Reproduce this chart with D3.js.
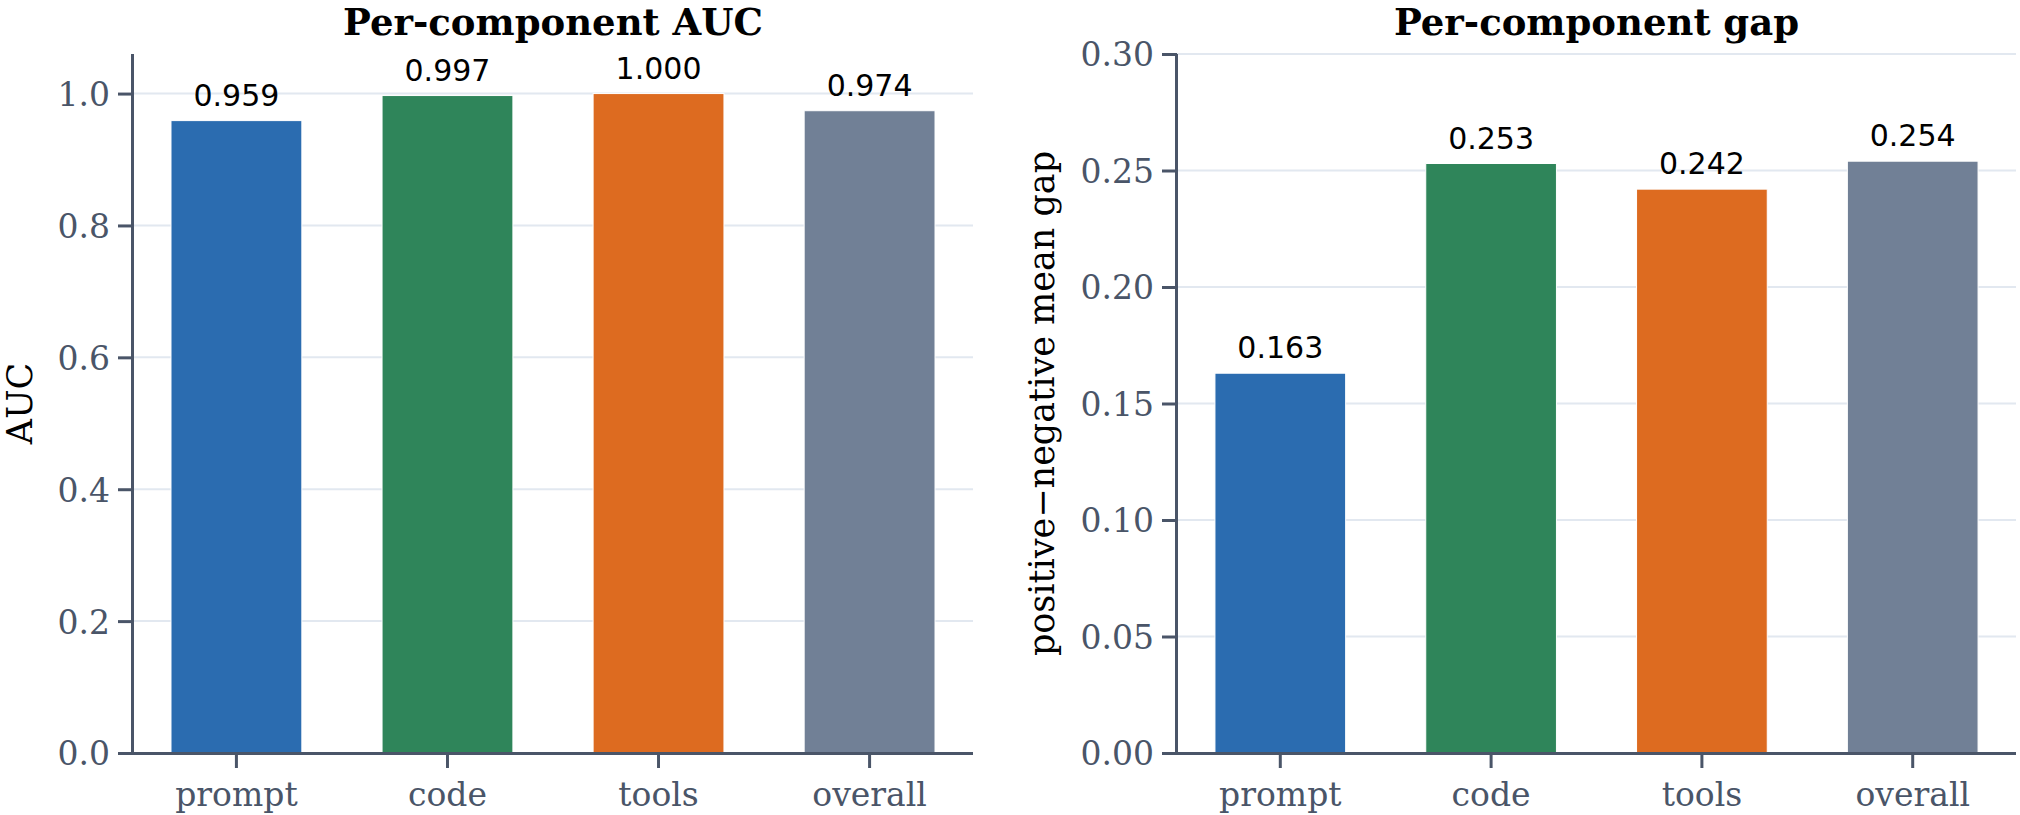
<!DOCTYPE html>
<html>
<head>
<meta charset="utf-8">
<script src="https://cdn.jsdelivr.net/npm/d3@7"></script>
<style>
  body { margin: 0; background: #fff; }
  svg { display: block; }
</style>
</head>
<body>
<div class="canvas"></div>
<script>
// data
const categories = ['prompt', 'code', 'tools', 'overall'];
const aucValues = [0.959, 0.997, 1.000, 0.974];
const gapValues = [0.163, 0.253, 0.242, 0.254];
const aucTicks = [0.0, 0.2, 0.4, 0.6, 0.8, 1.0];
const gapTicks = [0.00, 0.05, 0.10, 0.15, 0.20, 0.25, 0.30];
const barColors = ['#2b6cb0', '#2f855a', '#dd6b20', '#718096'];

const width = 2020;
const height = 815;
const axisColor = '#4a5568';
const gridColor = '#e2e8f0';

const svg = d3.select('.canvas')
                .append('svg')
                .attr('width', width)
                .attr('height', height);

// one panel = one bar chart
const drawPanel = (opts) => {
    const graph = svg.append('g')
                    .attr('transform', `translate(${opts.left}, ${opts.top})`);
    const graphWidth = opts.width;
    const graphHeight = opts.height;

    const x = d3.scaleBand()
                .domain(categories)
                .range([0, graphWidth])
                .paddingInner(0.38)
                .paddingOuter(0.18);
    const y = d3.scaleLinear()
                .domain(opts.domain)
                .range([graphHeight, 0]);

    // gridlines
    graph.append('g')
        .selectAll('line')
        .data(opts.ticks)
        .enter()
        .append('line')
        .attr('x1', 0)
        .attr('x2', graphWidth)
        .attr('y1', d => y(d))
        .attr('y2', d => y(d))
        .attr('stroke', gridColor)
        .attr('stroke-width', 2);

    // bars
    const data = categories.map((c, i) => ({ name: c, value: opts.values[i], color: barColors[i] }));
    graph.selectAll('rect')
        .data(data)
        .enter()
        .append('rect')
        .attr('x', d => x(d.name))
        .attr('y', d => y(d.value))
        .attr('width', x.bandwidth())
        .attr('height', d => graphHeight - y(d.value))
        .attr('fill', d => d.color)
        .attr('stroke', '#fff')
        .attr('stroke-width', 1);

    // value labels
    graph.selectAll('text.value')
        .data(data)
        .enter()
        .append('text')
        .attr('class', 'value')
        .attr('x', d => x(d.name) + x.bandwidth() / 2)
        .attr('y', d => y(d.value) - 15)
        .attr('text-anchor', 'middle')
        .attr('font-family', 'DejaVu Sans')
        .attr('font-size', 30)
        .attr('fill', '#000')
        .text(d => d.value.toFixed(3));

    // axes
    const xAxis = d3.axisBottom(x).tickSize(15);
    const yAxis = d3.axisLeft(y)
                    .tickValues(opts.ticks)
                    .tickSize(15)
                    .tickPadding(8)
                    .tickFormat(d3.format(opts.format));

    const xAxisGroup = graph.append('g')
                        .attr('transform', `translate(0, ${graphHeight})`)
                        .call(xAxis);
    const yAxisGroup = graph.append('g').call(yAxis);

    [xAxisGroup, yAxisGroup].forEach(g => {
        g.select('.domain')
            .attr('stroke', axisColor)
            .attr('stroke-width', 3);
        g.selectAll('.tick line')
            .attr('stroke', axisColor)
            .attr('stroke-width', 3);
        g.selectAll('.tick text')
            .attr('fill', axisColor)
            .attr('font-family', 'DejaVu Serif')
            .attr('font-size', 33);
    });
    // no end ticks on the spines
    xAxisGroup.select('.domain').attr('d', `M0,0.5H${graphWidth}`);
    yAxisGroup.select('.domain').attr('d', `M-0.5,${graphHeight}V0`);
    xAxisGroup.selectAll('.tick text').attr('y', 53).attr('dy', 0);
    yAxisGroup.selectAll('.tick text').attr('dy', '0.36em');

    // title
    graph.append('text')
        .attr('x', graphWidth / 2)
        .attr('y', 35 - opts.top)
        .attr('text-anchor', 'middle')
        .attr('font-family', 'DejaVu Serif')
        .attr('font-weight', 'bold')
        .attr('font-size', 37)
        .attr('fill', '#000')
        .text(opts.title);

    // y label
    graph.append('text')
        .attr('transform', `translate(${opts.labelX - opts.left}, ${graphHeight / 2}) rotate(-90)`)
        .attr('text-anchor', 'middle')
        .attr('font-family', 'DejaVu Serif')
        .attr('font-size', 35)
        .attr('fill', '#000')
        .text(opts.label);
};

drawPanel({
    left: 133, top: 54, width: 840, height: 699,
    domain: [0, 1.06], ticks: aucTicks, values: aucValues, format: '.1f',
    title: 'Per-component AUC', label: 'AUC', labelX: 32
});

drawPanel({
    left: 1177, top: 54, width: 839, height: 699,
    domain: [0, 0.30], ticks: gapTicks, values: gapValues, format: '.2f',
    title: 'Per-component gap', label: 'positive\u2212negative mean gap', labelX: 1054
});
</script>
</body>
</html>
